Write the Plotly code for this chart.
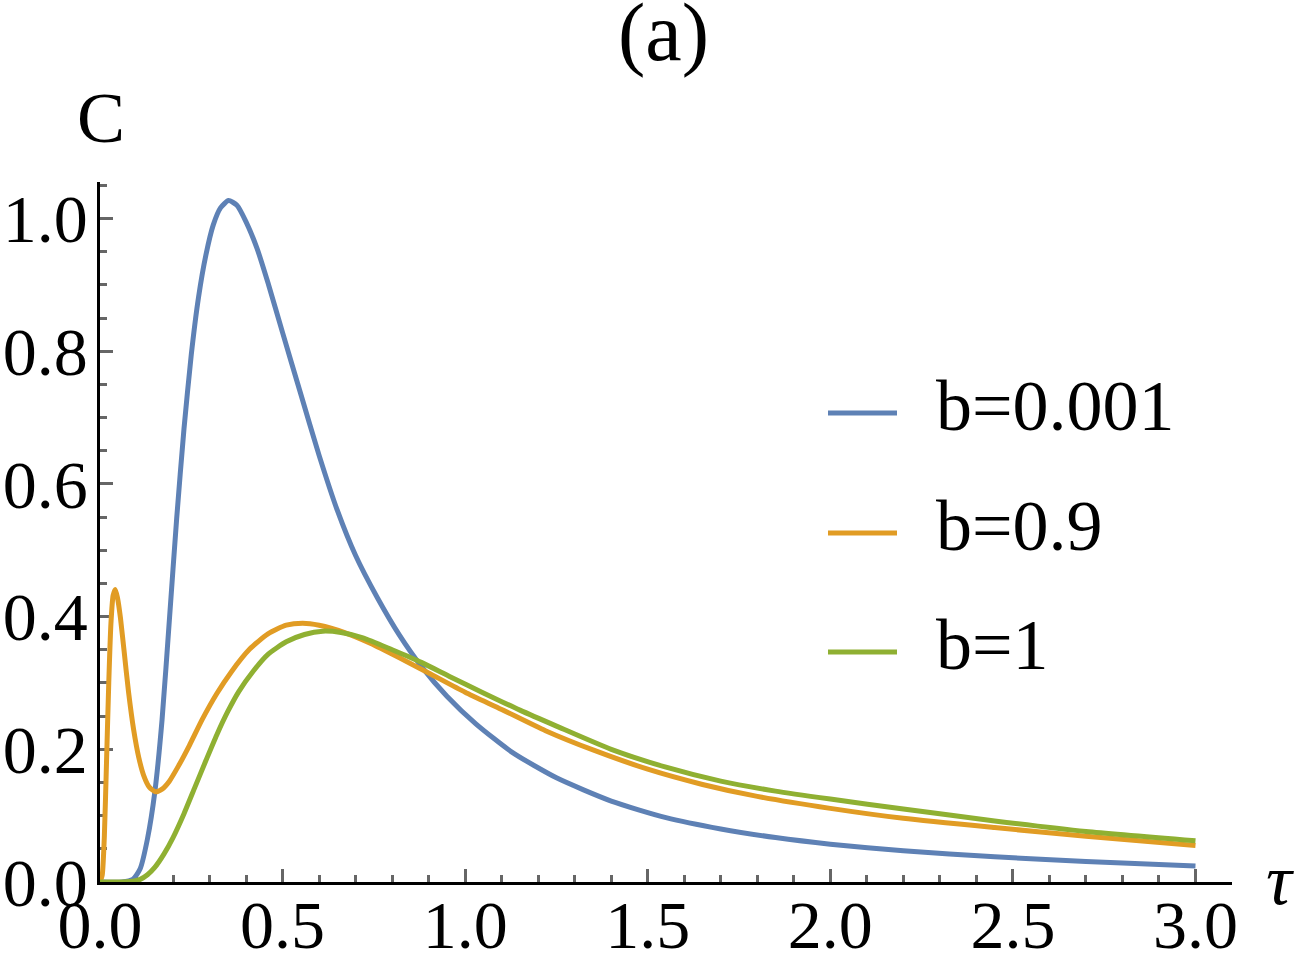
import plotly.graph_objects as go

# ---- data ----
t_b0001 = [0.00, 0.06, 0.09, 0.11, 0.13, 0.15, 0.17, 0.19, 0.21, 0.23, 0.25, 0.27, 0.29, 0.31,
           0.33, 0.352, 0.375, 0.40, 0.43, 0.46, 0.50, 0.55, 0.60, 0.65, 0.70, 0.76, 0.82, 0.88,
           0.95, 1.03, 1.13, 1.25, 1.40, 1.55, 1.70, 1.85, 2.00, 2.20, 2.45, 2.70, 3.00]
C_b0001 = [0.000, 0.000, 0.004, 0.020, 0.065, 0.135, 0.245, 0.395, 0.548, 0.683, 0.795, 0.882,
           0.945, 0.990, 1.016, 1.027, 1.020, 0.995, 0.955, 0.903, 0.828, 0.735, 0.643, 0.560,
           0.492, 0.428, 0.372, 0.325, 0.280, 0.238, 0.195, 0.157, 0.122, 0.097, 0.080, 0.067,
           0.057, 0.047, 0.038, 0.031, 0.024]

t_b09 = [0.000, 0.006, 0.012, 0.018, 0.024, 0.030, 0.036, 0.042, 0.048, 0.056, 0.066, 0.078,
         0.092, 0.106, 0.120, 0.135, 0.152, 0.170, 0.190, 0.215, 0.245, 0.280, 0.320, 0.360,
         0.410, 0.460, 0.510, 0.555, 0.600, 0.670, 0.740, 0.820, 0.900, 1.000, 1.100, 1.220,
         1.350, 1.500, 1.650, 1.800, 2.000, 2.200, 2.450, 2.700, 3.000]
C_b09 = [0.000, 0.010, 0.070, 0.184, 0.300, 0.390, 0.432, 0.441, 0.428, 0.398, 0.348, 0.287,
         0.230, 0.188, 0.160, 0.143, 0.136, 0.140, 0.152, 0.175, 0.206, 0.245, 0.284, 0.317,
         0.351, 0.374, 0.387, 0.390, 0.387, 0.376, 0.360, 0.338, 0.315, 0.286, 0.260, 0.228,
         0.199, 0.170, 0.147, 0.129, 0.111, 0.096, 0.082, 0.069, 0.055]

t_b1 = [0.000, 0.060, 0.090, 0.110, 0.130, 0.150, 0.175, 0.200, 0.230, 0.260, 0.290, 0.320,
        0.350, 0.380, 0.420, 0.460, 0.510, 0.560, 0.610, 0.660, 0.720, 0.800, 0.880, 0.960,
        1.050, 1.150, 1.250, 1.400, 1.550, 1.700, 1.850, 2.000, 2.200, 2.450, 2.700, 3.000]
C_b1 = [0.000, 0.000, 0.001, 0.004, 0.011, 0.022, 0.042, 0.067, 0.103, 0.143, 0.183, 0.222,
        0.257, 0.287, 0.318, 0.343, 0.362, 0.373, 0.378, 0.376, 0.368, 0.350, 0.331, 0.309,
        0.285, 0.259, 0.235, 0.200, 0.173, 0.152, 0.137, 0.125, 0.110, 0.092, 0.076, 0.062]

labels = ["b=0.001", "b=0.9", "b=1"]
colors = ["#5E81B5", "#E19C24", "#8FB032"]
series_t = [t_b0001, t_b09, t_b1]
series_C = [C_b0001, C_b09, C_b1]

x_ticks = [0.0, 0.5, 1.0, 1.5, 2.0, 2.5, 3.0]
x_ticktext = ["0.0", "0.5", "1.0", "1.5", "2.0", "2.5", "3.0"]
y_ticks = [0.0, 0.2, 0.4, 0.6, 0.8, 1.0]
y_ticktext = ["0.0", "0.2", "0.4", "0.6", "0.8", "1.0"]

FONT = "Liberation Serif"
W, H = 1294, 960
L, R, T, B = 100, 62, 182, 78
PW, PH = W - L - R, H - T - B


def px_x(p):
    return (p - L) / PW


def px_y(p):
    return (H - B - p) / PH


fig = go.Figure()
for t, c, name, col in zip(series_t, series_C, labels, colors):
    fig.add_trace(go.Scatter(x=t, y=c, mode="lines", name=name,
                             line=dict(color=col, width=5, shape="spline", smoothing=0.6),
                             cliponaxis=False, showlegend=False))

axis_common = dict(showline=True, linecolor="black", linewidth=2.5, showgrid=False,
                   zeroline=False, ticks="inside", tickcolor="#666666", tickwidth=2.5,
                   automargin=False,
                   tickfont=dict(family=FONT, size=68, color="black"), layer="below traces")

fig.update_xaxes(range=[0, 3.1], tickvals=x_ticks, ticktext=x_ticktext, ticklen=13,
                 ticklabelstandoff=-18,
                 minor=dict(dtick=0.1, tick0=0, ticklen=7, ticks="inside",
                            tickcolor="#666666", tickwidth=2.5),
                 **axis_common)
fig.update_yaxes(range=[0, 1.055], tickvals=y_ticks, ticktext=y_ticktext, ticklen=13,
                 ticklabelstandoff=-4,
                 minor=dict(dtick=0.05, tick0=0, ticklen=7, ticks="inside",
                            tickcolor="#666666", tickwidth=2.5),
                 **axis_common)

annotations = [
    dict(text="(a)", x=px_x(663), y=px_y(32), xref="paper", yref="paper",
         showarrow=False, xanchor="center", yanchor="middle",
         font=dict(family=FONT, size=82, color="black")),
    dict(text="C", x=px_x(101), y=px_y(118), xref="paper", yref="paper",
         showarrow=False, xanchor="center", yanchor="middle",
         font=dict(family=FONT, size=72, color="black")),
    dict(text="<i>τ</i>", x=px_x(1280), y=px_y(880), xref="paper", yref="paper",
         showarrow=False, xanchor="center", yanchor="middle",
         font=dict(family=FONT, size=72, color="black")),
]

shapes = []
legend_y = [413, 533, 652]
for name, col, ly in zip(labels, colors, legend_y):
    shapes.append(dict(type="line", xref="paper", yref="paper",
                       x0=px_x(828), x1=px_x(897), y0=px_y(ly), y1=px_y(ly),
                       line=dict(color=col, width=5)))
    annotations.append(dict(text=name, x=px_x(934), y=px_y(ly - 7), xref="paper", yref="paper",
                            showarrow=False, xanchor="left", yanchor="middle",
                            font=dict(family=FONT, size=72, color="black")))

fig.update_layout(width=W, height=H, margin=dict(l=L, r=R, t=T, b=B),
                  plot_bgcolor="white", paper_bgcolor="white",
                  annotations=annotations, shapes=shapes, showlegend=False)

fig.write_html("out.html")
